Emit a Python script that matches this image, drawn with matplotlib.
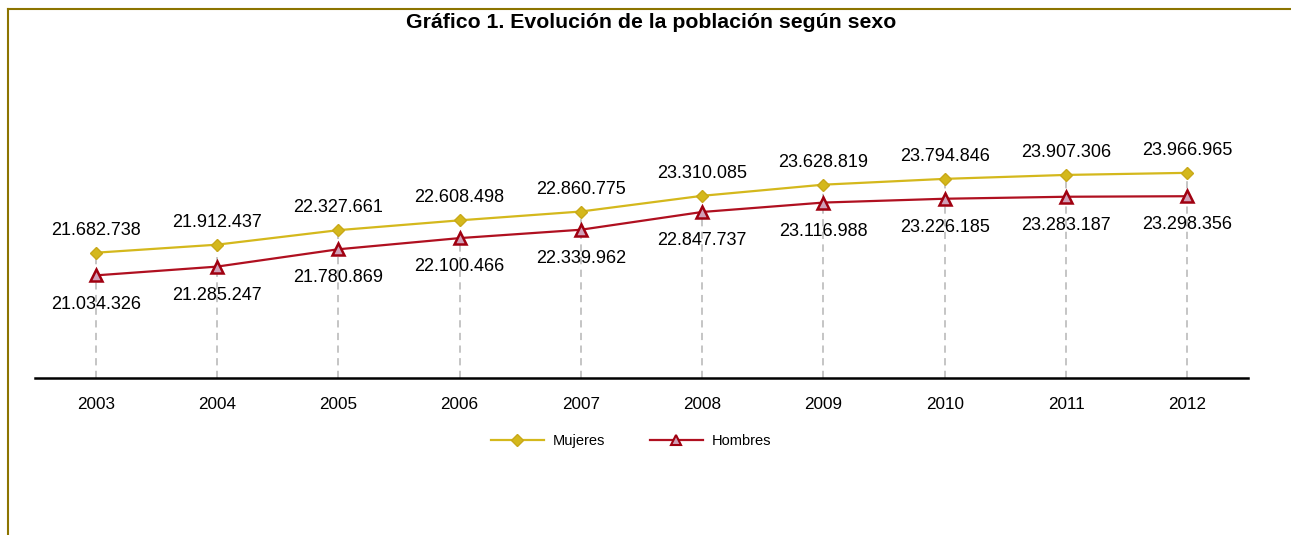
import matplotlib.pyplot as plt
from matplotlib.lines import Line2D

years = ['2003', '2004', '2005', '2006', '2007', '2008', '2009', '2010', '2011', '2012']
mujeres = [21682738, 21912437, 22327661, 22608498, 22860775,
           23310085, 23628819, 23794846, 23907306, 23966965]
hombres = [21034326, 21285247, 21780869, 22100466, 22339962,
           22847737, 23116988, 23226185, 23283187, 23298356]


def fmt(v):
    return f"{v:,}".replace(',', '.')


plt.rcParams['font.family'] = ['Liberation Sans', 'DejaVu Sans']

W, H = 1291, 535
fig = plt.figure(figsize=(W / 100, H / 100), dpi=100)
ax = fig.add_axes([35 / W, (H - 378) / H, 1213 / W, 278 / H])

x = list(range(len(years)))
ymin, ymax = 18.1e6, 26.05e6

# dashed drop lines
ax.vlines(x, ymin, mujeres, colors='#c0c0c0', linestyles=(0, (4, 3)), linewidth=1.3, zorder=1)

ax.plot(x, mujeres, color='#d4b81c', linewidth=1.6, marker='D', markersize=6,
        markerfacecolor='#d4b81c', markeredgecolor='#c8a818', zorder=3)
ax.plot(x, hombres, color='#b01020', linewidth=1.6, marker='^', markersize=8,
        markerfacecolor='#d0a0b8', markeredgecolor='#a00010', markeredgewidth=1.8, zorder=3)

for xi, m, h in zip(x, mujeres, hombres):
    ax.annotate(fmt(m), (xi, m), xytext=(0, 10), textcoords='offset points',
                ha='center', va='bottom', fontsize=13)
    ax.annotate(fmt(h), (xi, h), xytext=(0, -14.5), textcoords='offset points',
                ha='center', va='top', fontsize=13)

ax.set_xlim(-0.5, 9.5)
ax.set_ylim(ymin, ymax)
ax.set_xticks(x)
ax.set_xticklabels(years, fontsize=12.3)
ax.tick_params(axis='x', length=0, pad=14)
ax.set_yticks([])
for s in ['top', 'right', 'left']:
    ax.spines[s].set_visible(False)
ax.spines['bottom'].set_linewidth(1.8)

fig.text(651 / W, 1 - 23 / H, 'Gráfico 1. Evolución de la población según sexo',
         ha='center', va='center', fontsize=15.3, fontweight='bold')

handles = [
    Line2D([], [], color='#d4b81c', linewidth=1.6, marker='D', markersize=6,
           markerfacecolor='#d4b81c', markeredgecolor='#c8a818'),
    Line2D([], [], color='#b01020', linewidth=1.6, marker='^', markersize=7,
           markerfacecolor='#d0a0b8', markeredgecolor='#a00010', markeredgewidth=1.5),
]
fig.legend(handles, ['Mujeres', 'Hombres'], loc='center', bbox_to_anchor=(631 / W, 1 - 441 / H),
           ncol=2, frameon=False, fontsize=10.5, handlelength=3.6, handletextpad=0.6,
           columnspacing=3.1)

# frame lines (top and left)
border = '#8c7400'
fig.add_artist(Line2D([8 / W, 1], [1 - 9 / H, 1 - 9 / H], color=border, linewidth=1.5))
fig.add_artist(Line2D([8 / W, 8 / W], [0, 1 - 9 / H], color=border, linewidth=1.5))

fig.savefig('out.png', dpi=100)
